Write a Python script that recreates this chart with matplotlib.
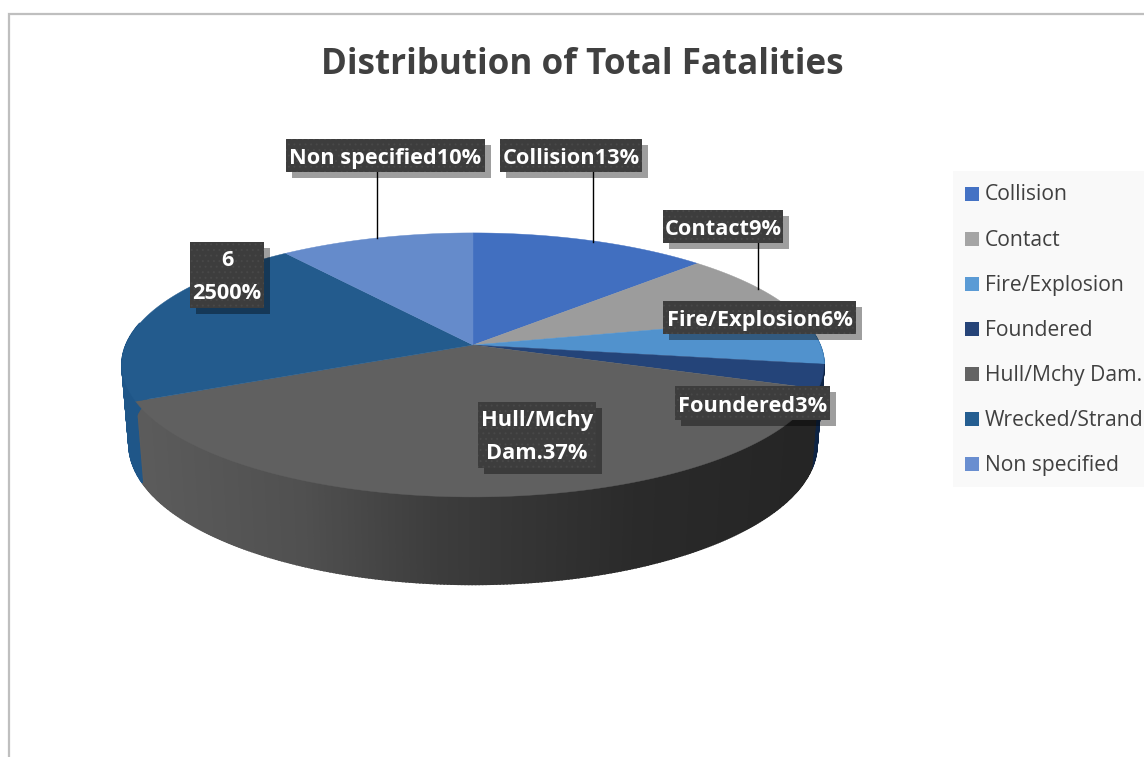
import numpy as np
import matplotlib
matplotlib.use("Agg")
import matplotlib.pyplot as plt
from matplotlib.patches import Rectangle, Polygon

plt.rcParams['font.family'] = ['Open Sans', 'DejaVu Sans']
plt.rcParams['hatch.linewidth'] = 0.7

title = "Distribution of Total Fatalities"
categories = ["Collision", "Contact", "Fire/Explosion", "Foundered",
              "Hull/Mchy Dam.", "Wrecked/Stranded", "Non specified"]
legend_labels = ["Collision", "Contact", "Fire/Explosion", "Foundered",
                 "Hull/Mchy Dam.", "Wrecked/Strand", "Non specified"]
# slice sizes as drawn in the picture
slice_values = [13, 9, 6, 3, 39, 21.9, 10.6]
top_colors = ["#416fc0", "#9c9c9c", "#5192cd", "#244479", "#606060", "#235b8d", "#658bcb"]
legend_colors = ["#4472c4", "#a5a5a5", "#5b9bd5", "#264478", "#636363", "#255e91", "#698ed0"]
wall_colors = ["#2f5597", "#6e6e6e", "#3a78b0", "#0e2444", None, "#1f5688", "#4a6ca8"]

# data labels: text, box (x0, y0, x1, y1), leader line (x, y0, y1)
label_texts = ["Collision13%", "Contact9%", "Fire/Explosion6%", "Foundered3%",
               "Hull/Mchy\nDam.37%", "6\n2500%", "Non specified10%"]
label_boxes = [(500, 139, 642, 172), (663, 210, 783, 243), (663, 301, 856, 334),
               (675, 386, 830, 420), (478, 402, 596, 468), (190, 242, 264, 308),
               (286, 139, 485, 172)]
leaders = [(593, 172, 242), (758, 243, 289), (377, 172, 238)]

W, H = 1144, 757
fig = plt.figure(figsize=(W / 100, H / 100), dpi=100, facecolor="white")
ax = fig.add_axes([0, 0, 1, 1])
ax.set_xlim(0, W)
ax.set_ylim(H, 0)
ax.axis("off")

# chart frame
ax.plot([9, 9, W], [H, 13.5, 13.5], color="#bfbfbf", lw=1.6, solid_joinstyle="miter", zorder=1)

# perspective projection of the pie
CX, AY, A, B, K = 473, 345, 347, 129, 0.151
BS, BAY, BB = 0.98, 423, 137


def top_xy(theta):
    u, v = np.sin(theta), np.cos(theta)
    w = 1 + K * v
    return CX + A * u / w, AY - B * v / w


def bot_xy(theta):
    u, v = np.sin(theta), np.cos(theta)
    w = 1 + K * v
    return CX + BS * A * u / w, BAY - BB * v / w


vals = np.array(slice_values, dtype=float)
edges = np.concatenate([[0], np.cumsum(vals)]) / vals.sum() * 2 * np.pi


def shade(x):
    g = np.interp(x, [130, 300, 440, 640, 800], [0x5c, 0x50, 0x3c, 0x2a, 0x25])
    return (g / 255, g / 255, g / 255)


# side wall
for i in range(len(vals)):
    lo, hi = max(edges[i], np.radians(80)), min(edges[i + 1], np.radians(280))
    if hi <= lo:
        continue
    n = max(2, int(np.degrees(hi - lo) * 2))
    th = np.linspace(lo, hi, n + 1)
    for a, b in zip(th[:-1], th[1:]):
        xt, yt = top_xy(np.array([a, b]))
        xb, yb = bot_xy(np.array([a, b]))
        col = wall_colors[i] if wall_colors[i] else shade(xt.mean())
        ax.add_patch(Polygon(np.c_[[xt[0], xt[1], xb[1], xb[0]], [yt[0], yt[1], yb[1], yb[0]]],
                             closed=True, fc=col, ec=col, lw=1.2, zorder=2))

# top surface
for i, c in enumerate(top_colors):
    th = np.linspace(edges[i], edges[i + 1], 120)
    x, y = top_xy(th)
    ax.add_patch(Polygon(np.c_[np.r_[CX, x], np.r_[AY, y]], closed=True,
                         fc=c, ec=c, lw=0.3, zorder=3))

# leader lines
for x, y0, y1 in leaders:
    ax.plot([x, x], [y0, y1], color="black", lw=1.0, zorder=4)

# data labels
for txt, (x0, y0, x1, y1) in zip(label_texts, label_boxes):
    ax.add_patch(Rectangle((x0 + 5.5, y0 + 5.5), x1 - x0, y1 - y0, fc="black", alpha=0.38, ec="none", zorder=5))
    ax.add_patch(Rectangle((x0, y0), x1 - x0, y1 - y0, fc="#3d3d3d", ec="none", zorder=6))
    ax.add_patch(Rectangle((x0, y0), x1 - x0, y1 - y0, fc="none", ec="#484848", lw=0, hatch="...", zorder=6))
    dy = 2 if "\n" in txt else 3
    ax.text((x0 + x1) / 2, (y0 + y1) / 2 + dy, txt, color="white", fontsize=15.7, fontweight="bold",
            ha="center", va="center", linespacing=1.7, zorder=7)

# title
ax.text(582, 65, title, color="#404040", fontsize=25.2, fontweight="bold", ha="center", va="center", zorder=7)

# legend
ax.add_patch(Rectangle((953, 171), W - 953, 316, fc="#f9f9f9", ec="none", zorder=1))
for i, (lab, c) in enumerate(zip(legend_labels, legend_colors)):
    yc = 194 + i * 45
    ax.add_patch(Rectangle((965, yc - 7), 14, 14, fc=c, ec="none", zorder=2))
    ax.text(985, yc + 1, lab, color="#404040", fontsize=15.2, ha="left", va="center", zorder=3)

fig.savefig("out.png", dpi=100, facecolor="white")
